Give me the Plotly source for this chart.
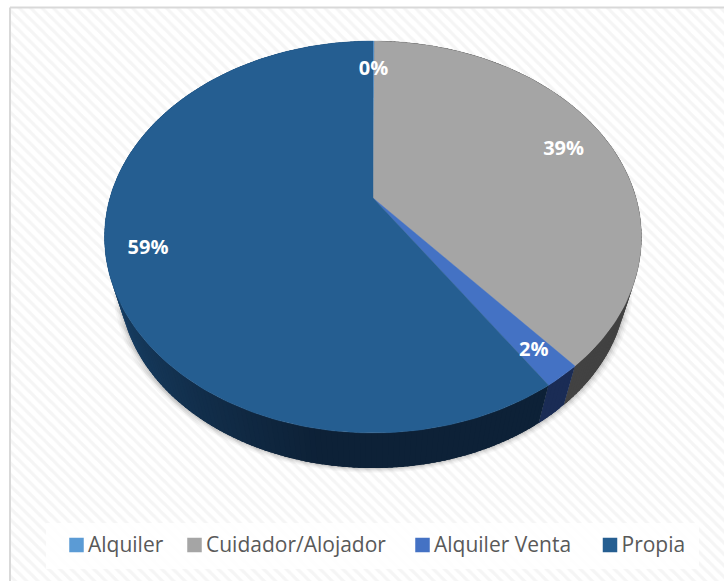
import numpy as np
import plotly.graph_objects as go

# ---- data ----
categories = ["Alquiler", "Cuidador/Alojador", "Alquiler Venta", "Propia"]
values = [0.1, 38.6, 1.9, 59.4]
top_colors = ["#5b9bd5", "#a5a5a5", "#4472c4", "#255e91"]
wall_colors = ["#2a4f72", "#424242", "#1a2c55", None]
label_radius = [0.80, 0.815, 0.87, 0.85]
legend_swatch_x = [76.5, 194.5, 422.5, 610]

# ---- projection of the tilted disc into page pixels ----
APEX_X, APEX_Y = 373, 198
A, B, K = 263.1, 188.2, 0.199
WALL_SCALE, WALL_DROP = 0.945, 48


def project(theta, r=1.0, wall=False):
    u, v = r * np.sin(theta), r * np.cos(theta)
    w = 1 + K * v
    X, Y = A * u / w, B * v / w
    if wall:
        X, Y = X * WALL_SCALE, Y * WALL_SCALE - WALL_DROP
    return APEX_X + X, APEX_Y - Y


def mix(c1, c2, t):
    a = [int(c1[i:i + 2], 16) for i in (1, 3, 5)]
    b = [int(c2[i:i + 2], 16) for i in (1, 3, 5)]
    return "#" + "".join(f"{round(p + (q - p) * t):02x}" for p, q in zip(a, b))


def poly(xs, ys, color, width=0.0):
    return go.Scatter(x=xs, y=ys, mode="lines", fill="toself", fillcolor=color,
                      line=dict(color=color, width=width), hoverinfo="skip",
                      showlegend=False)


fig = go.Figure()

# chart background with diagonal hatch and frame
fig.add_trace(go.Scatter(
    x=[10, 730, 730, 10, 10], y=[7.5, 7.5, 590, 590, 7.5], mode="lines", fill="toself",
    fillcolor="white", line=dict(color="#d9d9d9", width=2),
    fillpattern=dict(shape="\\", bgcolor="white", fgcolor="#ececec", size=8, solidity=0.4),
    hoverinfo="skip", showlegend=False))

# legend plate
fig.add_trace(poly([46, 699, 699, 46, 46], [523, 523, 569, 569, 523], "rgba(255,255,255,0.85)"))

cum = np.cumsum([0] + values) / sum(values) * 2 * np.pi

# soft shadow under the body
t_all = np.linspace(0, 2 * np.pi, 361)
for grow, alpha in [(6, 0.03), (4.5, 0.04), (3, 0.06), (1.5, 0.08)]:
    bx, by = project(t_all, wall=True)
    bx = APEX_X + (bx - APEX_X) * (1 + grow / 255)
    by = by + grow * 0.8
    fig.add_trace(poly(bx, by, f"rgba(0,0,0,{alpha})"))

# side wall: overlapping strips so no seams show through
for i in range(len(values)):
    n = max(2, int(np.degrees(cum[i + 1] - cum[i])))
    edges = np.linspace(cum[i], cum[i + 1], n + 1)
    for s, e in zip(edges[:-1], edges[1:]):
        end = min(e + np.radians(1.5), cum[i + 1])
        ts = np.linspace(s, end, 4)
        tx, ty = project(ts)
        wx, wy = project(ts[::-1], wall=True)
        if wall_colors[i] is None:
            deg = np.degrees((s + e) / 2)
            c = mix("#0d2137", "#1c4c78", float(np.clip((deg - 190) / 80, 0, 1)))
        else:
            c = wall_colors[i]
        fig.add_trace(poly(np.r_[tx, wx, tx[0]], np.r_[ty, wy, ty[0]], c))

# top face
for i in range(len(values)):
    ts = np.linspace(cum[i], cum[i + 1], max(3, int(np.degrees(cum[i + 1] - cum[i]))))
    tx, ty = project(ts)
    fig.add_trace(poly(np.r_[APEX_X, tx, APEX_X], np.r_[APEX_Y, ty, APEX_Y], top_colors[i], 0.4))

# data labels
mids = (cum[:-1] + cum[1:]) / 2
lx, ly = zip(*[project(m, r) for m, r in zip(mids, label_radius)])
fig.add_trace(go.Scatter(
    x=lx, y=[v + 2 for v in ly], mode="text", text=[f"{round(v)}%" for v in values],
    textposition="middle center", hoverinfo="skip", showlegend=False,
    textfont=dict(family="Open Sans", size=20, color="white", weight=700)))

# legend
fig.add_trace(go.Scatter(
    x=legend_swatch_x, y=[545] * 4, mode="markers", hoverinfo="skip", showlegend=False,
    marker=dict(symbol="square", size=14.5, color=top_colors, line=dict(width=0))))
fig.add_trace(go.Scatter(
    x=[v + 11.5 for v in legend_swatch_x], y=[547] * 4, mode="text", text=categories,
    textposition="middle right", hoverinfo="skip", showlegend=False,
    textfont=dict(family="Open Sans", size=21, color="#595959")))

fig.update_xaxes(visible=False, range=[0, 724], fixedrange=True)
fig.update_yaxes(visible=False, range=[581, 0], fixedrange=True)
fig.update_layout(width=724, height=581, margin=dict(l=0, r=0, t=0, b=0),
                  paper_bgcolor="white", plot_bgcolor="white", showlegend=False)
fig.write_html("out.html", config={"displayModeBar": False},
               post_script="document.body.style.margin='0';document.documentElement.style.overflow='hidden';")
